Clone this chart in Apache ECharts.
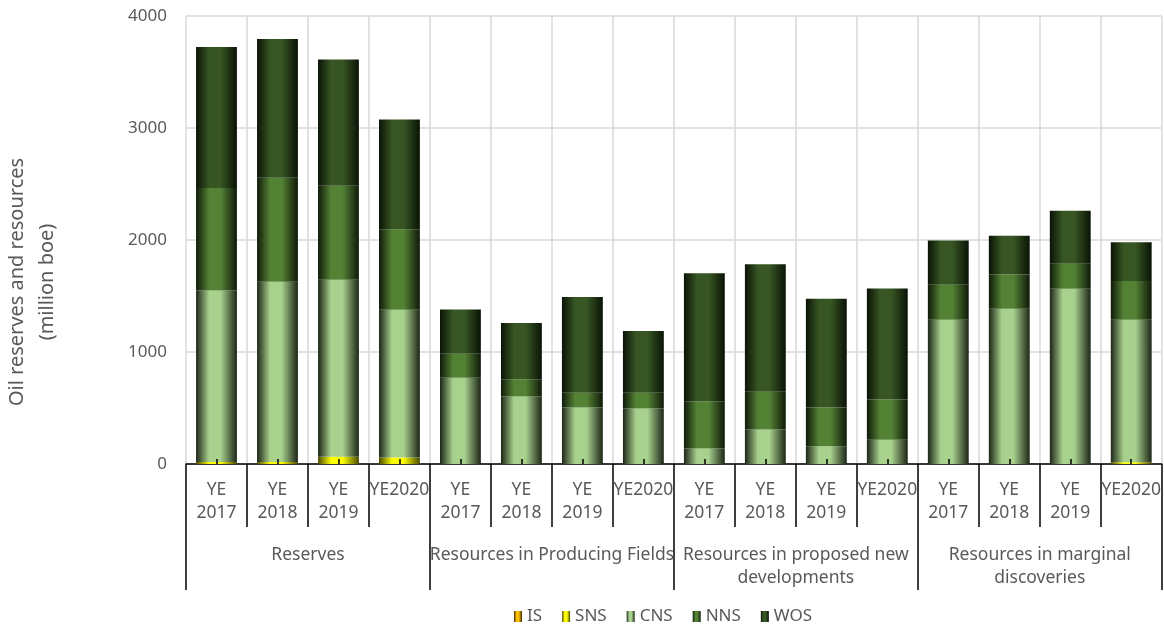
<!DOCTYPE html>
<html>
<head>
<meta charset="utf-8">
<script src="https://cdn.jsdelivr.net/npm/echarts@6/dist/echarts.min.js"></script>
<style>
  html, body { margin: 0; padding: 0; background: #ffffff; }
  #chart { width: 1164px; height: 626px; }
</style>
</head>
<body>
<div id="chart"></div>
<script>
// Category groups and the year columns repeated inside each group
const groups = [
  'Reserves',
  'Resources in Producing Fields',
  'Resources in proposed new\ndevelopments',
  'Resources in marginal\ndiscoveries'
];
const years = ['YE\n2017', 'YE\n2018', 'YE\n2019', 'YE2020'];

// Value axis range (million boe)
const yMin = 0;
const yMax = 4000;
const yStep = 1000;

// Stacked segments per column, by area (million boe)
const IS  = [0, 0, 0, 0,    0, 0, 0, 0,    0, 0, 0, 0,    0, 0, 0, 0];
const SNS = [18, 18, 65, 58, 0, 0, 0, 0,    0, 0, 0, 0,    0, 0, 0, 15];
const CNS = [1531, 1609, 1579, 1319, 771, 602, 504, 495, 138, 307, 159, 216, 1288, 1386, 1564, 1273];
const NNS = [915, 929, 841, 719, 214, 154, 133, 142, 422, 339, 345, 359, 312, 306, 223, 347];
const WOS = [1259, 1239, 1126, 981, 395, 502, 853, 550, 1144, 1138, 971, 992, 395, 347, 475, 345];

const categories = groups.flatMap(() => years);

const TEXT = '#595959';
const FONT = 'Noto Sans';

// Cylinder-like shading: dark edges, lit centre
function shade(base, edge) {
  return new echarts.graphic.LinearGradient(0, 0, 1, 0, [
    { offset: 0, color: edge },
    { offset: 0.32, color: base },
    { offset: 0.6, color: base },
    { offset: 1, color: edge }
  ]);
}

const seriesDefs = [
  { name: 'IS',  data: IS,  color: shade('#ffc000', '#3d2a00') },
  { name: 'SNS', data: SNS, color: shade('#ffff00', '#4a4a00') },
  { name: 'CNS', data: CNS, color: shade('#a9d18e', '#1c2616') },
  { name: 'NNS', data: NNS, color: shade('#548235', '#0f1a09') },
  { name: 'WOS', data: WOS, color: shade('#375623', '#0a1306') }
];

const chart = echarts.init(document.getElementById('chart'), null, { renderer: 'canvas' });

chart.setOption({
  animation: false,
  backgroundColor: '#ffffff',
  textStyle: { fontFamily: FONT },
  grid: { left: 186, right: 0, top: 16, bottom: 162, containLabel: false },
  legend: {
    data: seriesDefs.map(s => s.name),
    left: 509,
    top: 603,
    icon: 'rect',
    itemWidth: 8,
    itemHeight: 11,
    itemGap: 20,
    textStyle: { color: TEXT, fontSize: 17, fontFamily: FONT }
  },
  xAxis: [
    {
      // year columns: boundary ticks run down between the labels
      type: 'category',
      data: categories,
      position: 'bottom',
      boundaryGap: true,
      axisLine: { show: true, lineStyle: { color: '#000000', width: 1.5 } },
      axisTick: { show: true, interval: 0, length: 63, alignWithLabel: false, lineStyle: { color: '#000000', width: 1.5 } },
      axisLabel: { interval: 0, margin: 15, color: TEXT, fontSize: 17.5, lineHeight: 23, fontFamily: FONT },
      splitLine: { show: true, interval: 0, lineStyle: { color: '#d9d9d9', width: 1.5 } }
    },
    {
      // area groups: long ticks separate the four blocks
      type: 'category',
      data: groups,
      position: 'bottom',
      boundaryGap: true,
      axisLine: { show: false },
      axisTick: { show: true, interval: 0, length: 126, lineStyle: { color: '#000000', width: 1.5 } },
      axisLabel: { interval: 0, margin: 80, color: TEXT, fontSize: 17.5, lineHeight: 23, fontFamily: FONT },
      splitLine: { show: false }
    },
    {
      // short inner ticks at each column centre
      type: 'category',
      data: categories,
      position: 'bottom',
      boundaryGap: true,
      z: 10,
      axisLine: { show: false },
      axisTick: { show: true, interval: 0, inside: true, length: 5, alignWithLabel: true, lineStyle: { color: '#000000', width: 1.5 } },
      axisLabel: { show: false },
      splitLine: { show: false }
    }
  ],
  yAxis: {
    type: 'value',
    min: yMin,
    max: yMax,
    interval: yStep,
    axisLine: { show: false },
    axisTick: { show: false },
    axisLabel: { color: TEXT, fontSize: 17, margin: 19, fontFamily: FONT, formatter: v => String(v) },
    splitLine: { show: true, lineStyle: { color: '#d9d9d9', width: 1.5 } }
  },
  graphic: [
    {
      type: 'text',
      x: 32,
      y: 282,
      rotation: Math.PI / 2,
      style: {
        text: 'Oil reserves and resources\n(million boe)',
        fill: TEXT,
        font: '20px "Noto Sans"',
        align: 'center',
        verticalAlign: 'middle',
        lineHeight: 30
      }
    }
  ],
  series: seriesDefs.map(s => ({
    name: s.name,
    type: 'bar',
    stack: 'total',
    xAxisIndex: 0,
    barWidth: '67%',
    data: s.data,
    itemStyle: { color: s.color }
  }))
});
</script>
</body>
</html>
